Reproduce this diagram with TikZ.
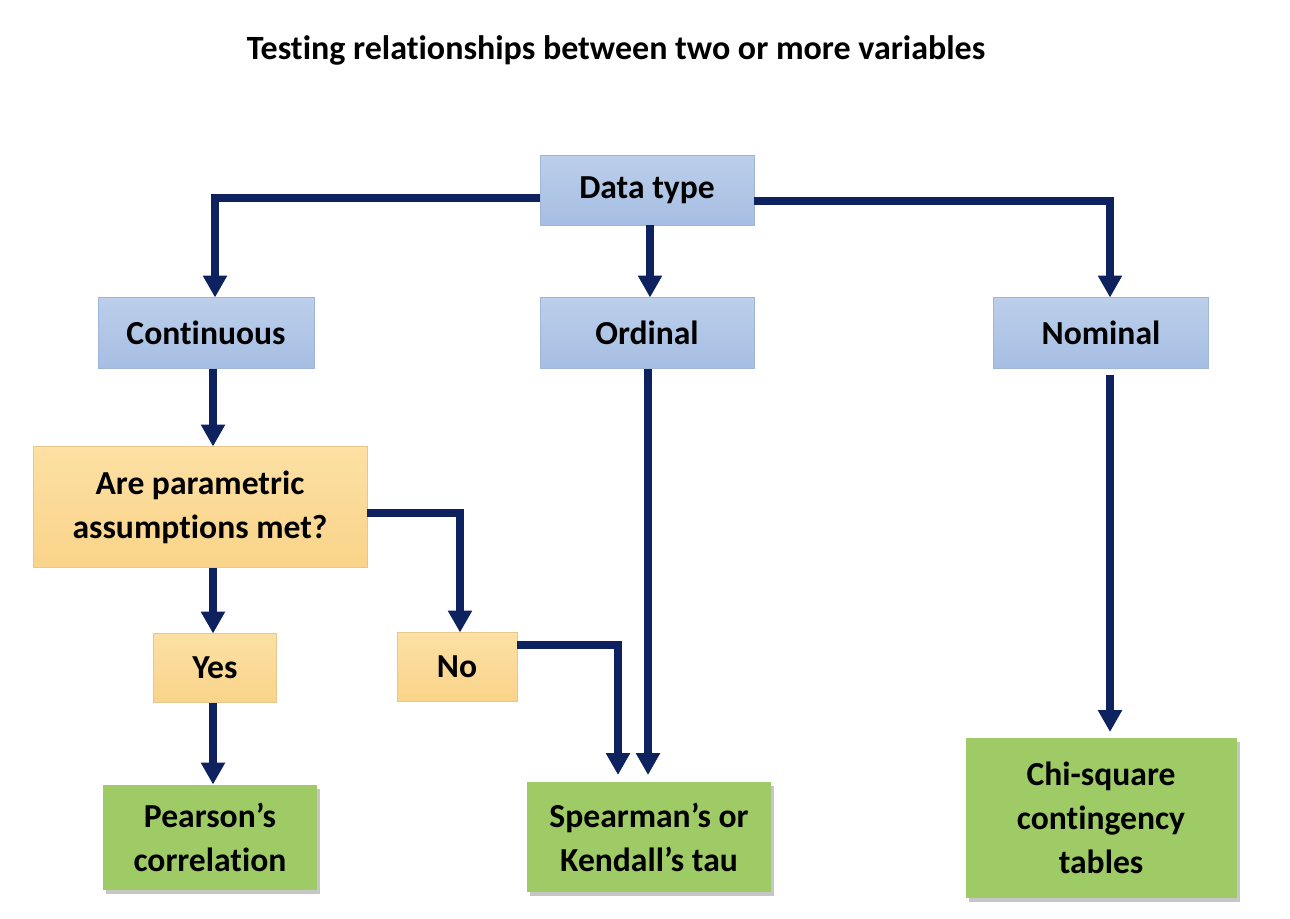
\documentclass[tikz,border=0pt]{standalone}
\usepackage{fontspec}
\setmainfont{Carlito}[Ligatures=NoCommon]
\usetikzlibrary{arrows.meta,shadows}
\definecolor{flowblue}{HTML}{0D225F}
\definecolor{typetop}{HTML}{BCCFEB}
\definecolor{typebot}{HTML}{A6BEE3}
\definecolor{typeline}{HTML}{A0B6D8}
\definecolor{asktop}{HTML}{FDE0A4}
\definecolor{askbot}{HTML}{F9D48A}
\definecolor{askline}{HTML}{E6C78E}
\definecolor{testfill}{HTML}{9ECB65}
\tikzset{
  boxtext/.style={font=\fontsize{16.8}{22}\selectfont\bfseries, align=center, inner sep=0pt, outer sep=0pt},
  typebox/.style={boxtext, rectangle, draw=typeline, top color=typetop, bottom color=typebot},
  askbox/.style={boxtext, rectangle, draw=askline, top color=asktop, bottom color=askbot},
  testbox/.style={boxtext, rectangle, fill=testfill, drop shadow={shadow xshift=1.5pt, shadow yshift=-2pt, opacity=0.45}},
  flow/.style={draw=flowblue, line width=3.6pt, -{Triangle[width=11.5pt,length=11pt]}}
}
\begin{document}
\begin{tikzpicture}[x=0.5pt, y=-0.5pt]
\useasboundingbox (0,0) rectangle (1290,918);
\draw (616,50) node[font=\fontsize{17}{20}\selectfont\bfseries] {Testing relationships between two or more variables};
% data type and its three kinds
\draw (647,190) node[typebox, minimum width=107pt, minimum height=35pt] (dtype) {Data type};
\draw (206,333) node[typebox, minimum width=108pt, minimum height=35.5pt] (cont) {Continuous};
\draw (647,333) node[typebox, minimum width=107pt, minimum height=35.5pt] (ord) {Ordinal};
\draw (1101,333) node[typebox, minimum width=107.5pt, minimum height=35.5pt] (nom) {Nominal};
% assumptions
\draw (200,507) node[askbox, minimum width=167pt, minimum height=60.5pt] (param) {Are parametric\\assumptions met?};
\draw (215,668) node[askbox, minimum width=61.5pt, minimum height=34.5pt] (yes) {Yes};
\draw (457,667) node[askbox, minimum width=60pt, minimum height=34.5pt] (no) {No};
% tests
\draw (210,837) node[testbox, minimum width=107pt, minimum height=52.5pt] (pear) {Pearson’s\\correlation};
\draw (649,837) node[testbox, minimum width=122pt, minimum height=55pt] (spear) {Spearman’s or\\Kendall’s tau};
\draw (1101,818) node[testbox, minimum width=135.5pt, minimum height=80pt] (chi) {Chi-square\\contingency\\tables};
% connectors
\draw[flow] ([yshift=-4pt]dtype.west) -| ([xshift=4.5pt]cont.north);
\draw[flow] ([xshift=1.5pt]dtype.south) -- ([xshift=1.5pt]ord.north);
\draw[flow] ([yshift=-5.5pt]dtype.east) -| ([xshift=4.5pt]nom.north);
\draw[flow] ([xshift=3.5pt]cont.south) -- ([xshift=6.5pt]param.north);
\draw[flow] ([yshift=-3pt]param.east) -| ([xshift=1.5pt]no.north);
\draw[flow] ([xshift=6.5pt]param.south) -- ([xshift=-1pt]yes.north);
\draw[flow] ([xshift=-1pt]yes.south) -- ([xshift=1.5pt]pear.north);
\draw[flow, shorten >=3.5pt] ([yshift=11pt]no.east) -| ([xshift=-15.5pt]spear.north);
\draw[flow, shorten >=3.5pt] ([xshift=0.5pt]ord.south) -- ([xshift=0.5pt]ord.south |- spear.north);
\draw[flow, shorten <=3pt, shorten >=3pt] ([xshift=4.5pt]nom.south) -- ([xshift=4.5pt]chi.north);
\end{tikzpicture}
\end{document}
